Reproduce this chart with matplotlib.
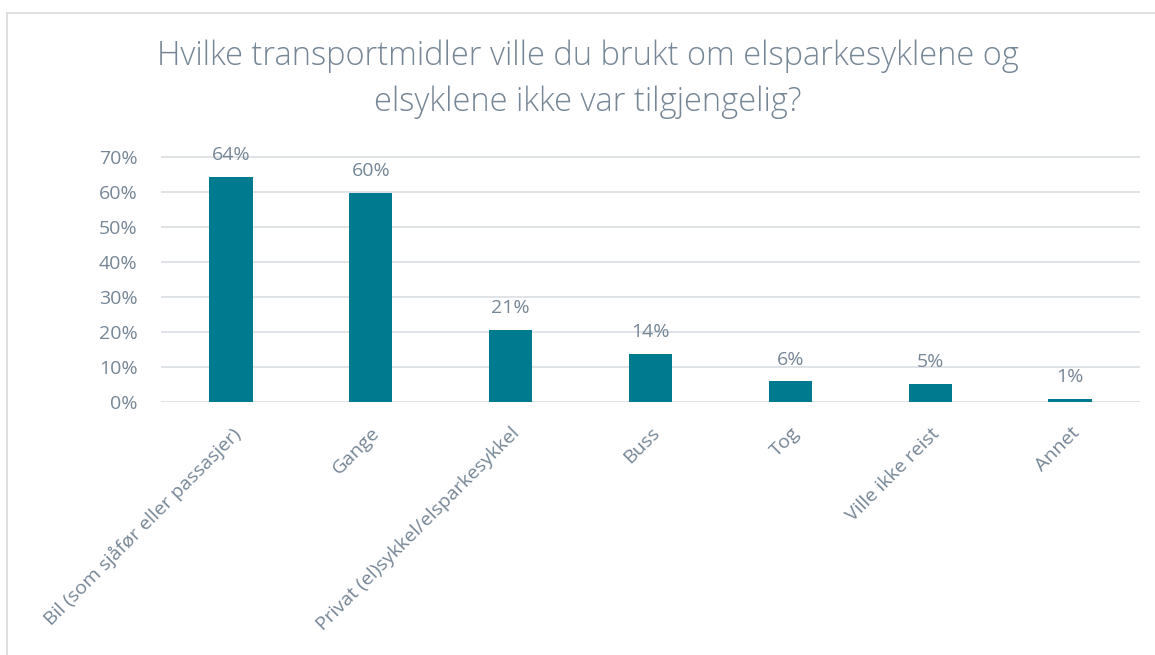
import matplotlib.pyplot as plt
from matplotlib.ticker import PercentFormatter
from matplotlib.lines import Line2D

kategorier = ["Bil (som sjåfør eller passasjer)", "Gange", "Privat (el)sykkel/elsparkesykkel",
              "Buss", "Tog", "Ville ikke reist", "Annet"]
andeler = [0.643, 0.598, 0.206, 0.138, 0.060, 0.052, 0.009]
etiketter = ["64%", "60%", "21%", "14%", "6%", "5%", "1%"]
y_ticks = [0, 0.1, 0.2, 0.3, 0.4, 0.5, 0.6, 0.7]

tekstfarge = "#758696"
plt.rcParams['font.family'] = ["Open Sans", "DejaVu Sans"]

fig = plt.figure(figsize=(11.55, 6.55), dpi=100)
ax = fig.add_axes([161 / 1155, 1 - 402 / 655, 979 / 1155, 245 / 655 * 0.75 / 0.7])

x = range(len(kategorier))
ax.bar(x, andeler, width=0.31, color="#007A8F", zorder=3)
for xi, v, t in zip(x, andeler, etiketter):
    ax.annotate(t, (xi, v), xytext=(0, 9), textcoords="offset points",
                ha="center", va="bottom", fontsize=14, color=tekstfarge)

ax.set_xlim(-0.5, len(kategorier) - 0.5)
ax.set_ylim(0, 0.75)
ax.set_yticks(y_ticks)
ax.yaxis.set_major_formatter(PercentFormatter(1.0, decimals=0))
ax.grid(axis="y", color="#D9DEE3", linewidth=1.2, zorder=0)
for s in ax.spines.values():
    s.set_visible(False)
ax.tick_params(length=0, colors=tekstfarge, labelsize=14)
ax.tick_params(axis="y", pad=17)
ax.set_xticks(list(x))
ax.set_xticklabels(kategorier, rotation=45, ha="right", rotation_mode="anchor")
ax.tick_params(axis="x", pad=16)

fig.suptitle("Hvilke transportmidler ville du brukt om elsparkesyklene og\nelsyklene ikke var tilgjengelig?",
             x=0.509, y=0.94, fontsize=23.5, color=tekstfarge, fontweight="light", linespacing=1.5)

# ramme rundt diagrammet
fig.add_artist(Line2D([7 / 1155, 7 / 1155], [0, 1 - 13 / 655], color="#D9D9D9", lw=1.2))
fig.add_artist(Line2D([7 / 1155, 1], [1 - 13 / 655, 1 - 13 / 655], color="#D9D9D9", lw=1.2))

fig.savefig("out.png", dpi=100, facecolor="white")
